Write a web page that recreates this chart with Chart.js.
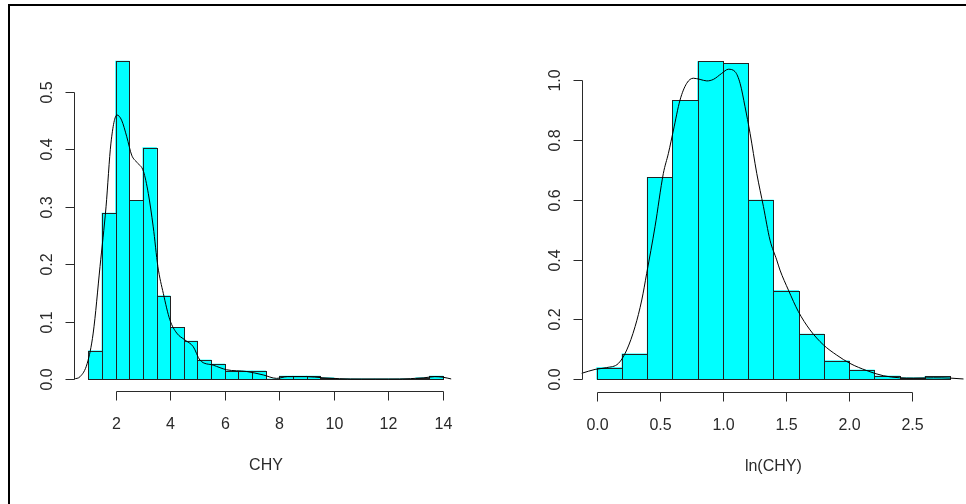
<!DOCTYPE html>
<html>
<head>
<meta charset="utf-8">
<script src="https://cdn.jsdelivr.net/npm/chart.js@4.4.1/dist/chart.umd.min.js"></script>
<style>
  html, body { margin: 0; padding: 0; background: #fff; }
  #page { position: relative; width: 966px; height: 504px; overflow: hidden; background: #fff; }
  #frame { position: absolute; left: 8px; top: 4px; width: 980px; height: 520px;
           border-left: 2px solid #000; border-top: 2px solid #000; box-sizing: border-box; }
  canvas { position: absolute; top: 0; }
  #left { left: 0; }
  #right { left: 483px; }
</style>
</head>
<body>
<div id="page">
  <div id="frame"></div>
  <canvas id="left" width="483" height="504" style="width:483px;height:504px"></canvas>
  <canvas id="right" width="483" height="504" style="width:483px;height:504px"></canvas>
</div>
<script>
// ---------- CHY histogram (bins of width 0.5 starting at 1.0) ----------
const chyBinStart = 1.0;
const chyBinWidth = 0.5;
const chyDensity = [0.049, 0.289, 0.554, 0.311, 0.403, 0.145, 0.090, 0.066, 0.033, 0.026,
                    0.014, 0.014, 0.014, 0, 0.005, 0.005, 0.005, 0.002, 0, 0,
                    0, 0, 0, 0, 0.002, 0.005];
// kernel density estimate of CHY
const chyKdeX = [0.48, 0.70, 0.96, 1.18, 1.43, 1.65, 1.83, 2.05, 2.22, 2.41,
                 2.59, 2.79, 3.02, 3.20, 3.38, 3.55, 3.75, 3.99, 4.24, 4.54,
                 4.85, 5.09, 5.58, 6.07, 6.80, 7.41, 7.90, 8.30, 9.00, 9.60,
                 10.2, 11.0, 12.0, 12.8, 13.3, 13.7, 14.0, 14.3];
const chyKdeY = [0, 0.004, 0.027, 0.080, 0.196, 0.300, 0.411, 0.460, 0.451, 0.422,
                 0.390, 0.377, 0.362, 0.323, 0.265, 0.196, 0.149, 0.103, 0.080, 0.068,
                 0.056, 0.033, 0.024, 0.016, 0.013, 0.007, 0.001, 0.004, 0.004, 0.002,
                 0.0005, 0, 0, 0.0005, 0.002, 0.004, 0.003, 0];
const chyXTicks = [2, 4, 6, 8, 10, 12, 14];
const chyXTickLabels = ['2', '4', '6', '8', '10', '12', '14'];
const chyYTicks = [0, 0.1, 0.2, 0.3, 0.4, 0.5];
const chyYTickLabels = ['0.0', '0.1', '0.2', '0.3', '0.4', '0.5'];

// ---------- ln(CHY) histogram (bins of width 0.2 starting at 0.0) ----------
const lnBinStart = 0.0;
const lnBinWidth = 0.2;
const lnDensity = [0.039, 0.085, 0.675, 0.932, 1.062, 1.056, 0.599, 0.296, 0.151, 0.062,
                   0.031, 0.011, 0.005, 0.010];
// kernel density estimate of ln(CHY)
const lnKdeX = [-0.119, -0.013, 0.079, 0.172, 0.238, 0.304, 0.357, 0.396, 0.462, 0.528,
                0.568, 0.608, 0.660, 0.713, 0.766, 0.819, 0.872, 0.924, 0.990, 1.043,
                1.096, 1.136, 1.175, 1.215, 1.268, 1.321, 1.373, 1.426, 1.452, 1.519,
                1.598, 1.690, 1.796, 1.901, 2.007, 2.140, 2.270, 2.400, 2.510, 2.670,
                2.800, 2.906];
const lnKdeY = [0.020, 0.033, 0.039, 0.053, 0.098, 0.176, 0.265, 0.354, 0.510, 0.688,
                0.755, 0.833, 0.933, 0.989, 1.006, 1.002, 0.997, 1.002, 1.022, 1.036,
                1.028, 0.989, 0.911, 0.822, 0.688, 0.577, 0.465, 0.399, 0.365, 0.298,
                0.226, 0.165, 0.115, 0.081, 0.053, 0.029, 0.012, 0.005, 0.004, 0.005,
                0.004, 0.001];
const lnXTicks = [0, 0.5, 1.0, 1.5, 2.0, 2.5];
const lnXTickLabels = ['0.0', '0.5', '1.0', '1.5', '2.0', '2.5'];
const lnYTicks = [0, 0.2, 0.4, 0.6, 0.8, 1.0];
const lnYTickLabels = ['0.0', '0.2', '0.4', '0.6', '0.8', '1.0'];

const FONT = '16px "Liberation Sans", Arial, sans-serif';
const INK = '#2a2a2a';

// Bar outlines drawn on whole pixels so neighbouring bars share one edge line,
// plus base-R style axes (line from first to last tick, outward ticks).
const histAxes = {
  id: 'histAxes',
  afterDatasetDraw(chart, args) {
    if (args.meta.type !== 'bar') return;
    const ctx = chart.ctx;
    ctx.save();
    ctx.strokeStyle = '#222';
    ctx.lineWidth = 1;
    args.meta.data.forEach(el => {
      const p = el.getProps(['x', 'y', 'base', 'width'], true);
      const l = Math.round(p.x - p.width / 2) + 0.5;
      const r = Math.round(p.x + p.width / 2) + 0.5;
      const t = Math.round(p.y) + 0.5;
      const b = Math.round(p.base) + 0.5;
      ctx.strokeRect(l, t, r - l, b - t);
    });
    ctx.restore();
  },
  afterDraw(chart, args, opts) {
    const ctx = chart.ctx;
    const xs = chart.scales.x, ys = chart.scales.y, area = chart.chartArea;
    const tick = 9;
    ctx.save();
    ctx.strokeStyle = INK;
    ctx.fillStyle = INK;
    ctx.lineWidth = 1;
    ctx.font = FONT;

    // x axis along the bottom of the plot region
    const ay = Math.round(area.bottom) + 0.5;
    const px = opts.xTicks.map(v => Math.round(xs.getPixelForValue(v)) + 0.5);
    ctx.beginPath();
    ctx.moveTo(px[0], ay);
    ctx.lineTo(px[px.length - 1], ay);
    px.forEach(p => { ctx.moveTo(p, ay); ctx.lineTo(p, ay + tick); });
    ctx.stroke();
    ctx.textAlign = 'center';
    ctx.textBaseline = 'middle';
    px.forEach((p, i) => ctx.fillText(opts.xLabels[i], p, ay + 33));

    // y axis along the left of the plot region
    const ax = Math.round(area.left) + 0.5;
    const py = opts.yTicks.map(v => Math.round(ys.getPixelForValue(v)) + 0.5);
    ctx.beginPath();
    ctx.moveTo(ax, py[0]);
    ctx.lineTo(ax, py[py.length - 1]);
    py.forEach(p => { ctx.moveTo(ax, p); ctx.lineTo(ax - tick, p); });
    ctx.stroke();
    py.forEach((p, i) => {
      ctx.save();
      ctx.translate(ax - 27, p);
      ctx.rotate(-Math.PI / 2);
      ctx.fillText(opts.yLabels[i], 0, 0);
      ctx.restore();
    });

    // axis title
    ctx.fillText(opts.title, (area.left + area.right) / 2, area.bottom + 75);
    ctx.restore();
  }
};

function makeHist(canvasId, cfg) {
  const centers = cfg.density.map((_, i) => cfg.binStart + cfg.binWidth * (i + 0.5));
  return new Chart(document.getElementById(canvasId), {
    type: 'bar',
    data: {
      datasets: [
        {
          type: 'line',
          order: 1,
          data: cfg.kdeX.map((x, i) => ({ x: x, y: cfg.kdeY[i] })),
          borderColor: '#000',
          borderWidth: 1,
          pointRadius: 0,
          cubicInterpolationMode: 'monotone',
          fill: false,
          clip: false
        },
        {
          type: 'bar',
          order: 2,
          data: centers.map((c, i) => ({ x: c, y: cfg.density[i] })),
          backgroundColor: '#00ffff',
          borderWidth: 0,
          barPercentage: 1,
          categoryPercentage: 1,
          clip: false
        }
      ]
    },
    options: {
      responsive: false,
      animation: false,
      events: [],
      devicePixelRatio: 1,
      layout: { padding: cfg.padding },
      scales: {
        x: { type: 'linear', display: false, offset: false, grid: { offset: false },
             min: cfg.xMin, max: cfg.xMax, ticks: { stepSize: cfg.xStep, includeBounds: false } },
        y: { type: 'linear', display: false, min: cfg.yMin, max: cfg.yMax,
             ticks: { includeBounds: false } }
      },
      plugins: {
        legend: { display: false },
        tooltip: { enabled: false },
        histAxes: cfg.axes
      }
    },
    plugins: [histAxes]
  });
}

makeHist('left', {
  density: chyDensity, binStart: chyBinStart, binWidth: chyBinWidth,
  kdeX: chyKdeX, kdeY: chyKdeY,
  xMin: 0.476, xMax: 14.55, xStep: 2, yMin: -0.021, yMax: 0.576,
  padding: { left: 74, right: 25, top: 48.4, bottom: 113 },
  axes: { xTicks: chyXTicks, xLabels: chyXTickLabels, yTicks: chyYTicks, yLabels: chyYTickLabels, title: 'CHY' }
});

makeHist('right', {
  density: lnDensity, binStart: lnBinStart, binWidth: lnBinWidth,
  kdeX: lnKdeX, kdeY: lnKdeY,
  xMin: -0.119, xMax: 2.918, xStep: 0.5, yMin: -0.0415, yMax: 1.104,
  padding: { left: 98.7, right: 1, top: 48.9, bottom: 112.3 },
  axes: { xTicks: lnXTicks, xLabels: lnXTickLabels, yTicks: lnYTicks, yLabels: lnYTickLabels, title: 'ln(CHY)' }
});
</script>
</body>
</html>
